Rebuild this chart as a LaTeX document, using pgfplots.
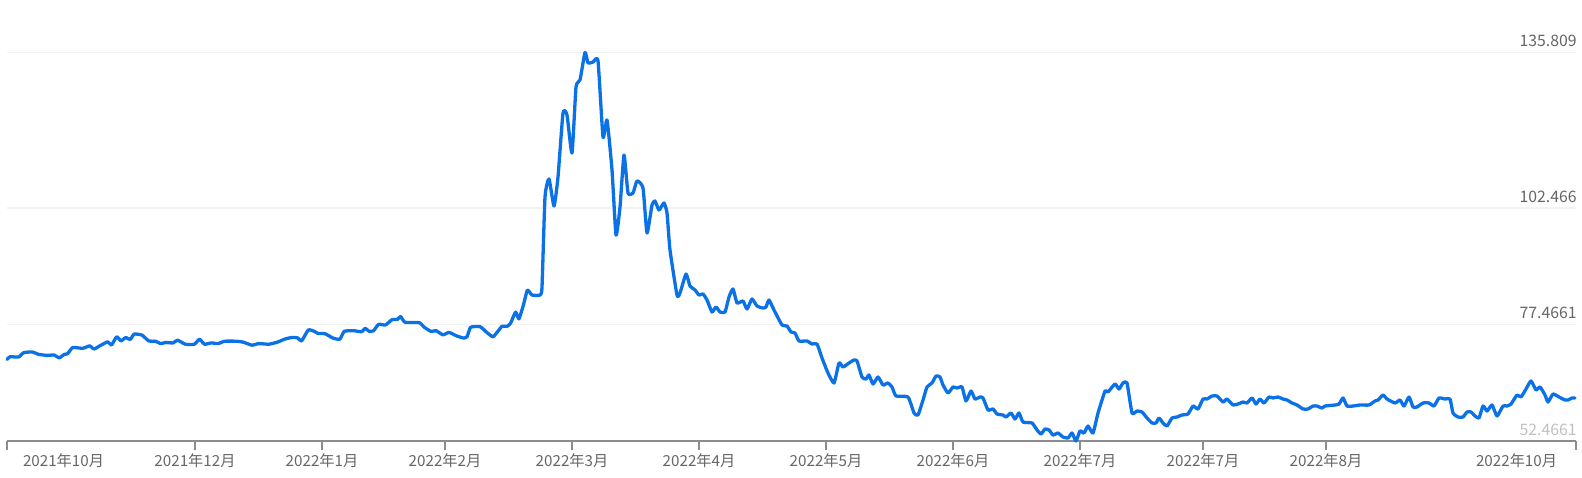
\documentclass[border=0pt]{standalone}
\usepackage{pgfplots}
\pgfplotsset{compat=1.18}
\usepackage{pgfplotstable}
\usepackage{fontspec}
\setmainfont{Noto Sans CJK SC}
\definecolor{lineblue}{RGB}{10,114,230}
\definecolor{labelgray}{RGB}{102,102,102}
\definecolor{lightlabel}{RGB}{192,192,192}
\definecolor{axisgray}{RGB}{140,140,140}
\definecolor{gridgray}{RGB}{243,243,243}
\pgfplotstableread{
x y
7 69.97
10.1 70.55
18.6 70.48
23.7 71.41
32.1 71.56
38.9 71.04
47.3 70.83
54.1 70.91
59.2 70.31
64.2 71.04
67.6 71.19
72.7 72.50
82.8 72.35
89.6 72.87
94 72.20
99.7 72.87
107.5 73.72
111.6 73.08
116.6 74.82
121 73.94
125.8 74.67
130.2 74.24
134.2 75.40
142 75.18
148.7 73.94
155.5 73.87
160.6 73.36
165.7 73.59
173.1 73.51
177.5 74.09
185.3 73.23
194.4 73.23
199.5 74.30
204.5 73.23
211.3 73.51
218 73.36
224.8 73.87
236.6 73.87
243.4 73.66
251.9 73.02
258.6 73.36
268.8 73.23
277.2 73.66
285.7 74.39
292.4 74.67
297.5 74.60
301.6 73.94
308.3 76.28
314.4 75.98
317.8 75.55
325.2 75.46
333 74.54
339.8 74.30
344.2 75.98
353.3 76.13
361.7 75.91
365.1 76.64
369.2 75.98
373.6 76.13
378.6 77.50
385.4 77.35
392.2 78.51
397.2 78.51
400.6 79.17
405 77.93
419.2 77.86
424.3 76.86
431 75.98
436.1 76.13
442.9 75.24
449 75.76
456.4 75.03
463.8 74.54
467.2 74.88
470.6 76.86
480.1 76.98
486.8 75.76
492.9 74.82
497 75.76
502 77.07
507.1 77.07
510.5 77.71
515.6 80.11
518.9 78.66
523.3 81.55
527.4 84.83
532 83.78
540 83.78
542 85.50
545 104.81
549 108.67
554 102.87
558 109.10
563 122.82
567 122.39
572 114.24
576 128.40
580 129.90
585 135.81
588 133.55
593 133.76
598 133.98
603 117.67
607 121.32
612 110.59
616 96.65
620 102.66
624 113.81
628 105.66
633 105.66
637 108.24
643 106.73
647 97.08
652 103.09
655 103.95
659 102.02
664 103.52
667 101.37
670 93.43
677 83.78
680 84.21
686 88.29
690 85.71
695 84.86
699 83.78
703 84.00
707 82.71
712 80.14
716 81.21
720 80.14
725 80.14
729 83.35
733 85.07
737 82.07
743 82.50
747 80.78
752 82.93
757 81.42
763 80.99
766 81.21
769 82.71
774 80.56
782 77.35
787 77.13
791 75.85
795 75.63
799 73.92
807 73.92
812 73.27
817 73.27
822 70.27
828 67.05
834 64.91
839 69.20
843 68.34
849 69.20
854 69.84
857 69.63
862 66.19
866 65.76
869 66.62
873 64.69
878 66.19
883 64.48
888 64.91
892 64.05
896 62.12
908 61.90
914 58.47
918 58.04
923 61.26
927 64.05
932 64.91
936 66.41
940 66.19
943 64.48
948 62.76
953 64.05
957 63.83
962 64.05
966 61.05
971 63.19
975 61.47
980 61.90
983 61.69
988 59.12
993 59.33
997 58.26
1003 58.04
1006 57.61
1011 58.47
1015 57.19
1019 58.47
1023 56.54
1032 56.33
1037 54.83
1041 53.97
1045 55.04
1049 54.83
1053 53.75
1058 54.18
1063 53.32
1068 53.11
1072 54.18
1076 52.47
1080 54.61
1084 54.18
1088 55.68
1093 54.18
1098 58.47
1105 63.19
1108 62.98
1115 64.69
1119 63.62
1123 64.91
1127 64.91
1132 58.47
1137 58.90
1142 58.69
1147 57.40
1152 56.33
1156 56.33
1159 57.40
1163 56.33
1167 55.68
1172 57.40
1177 57.61
1182 58.04
1188 58.26
1193 59.97
1198 59.33
1203 61.47
1207 61.47
1212 62.12
1217 62.12
1223 60.83
1227 61.47
1233 60.19
1238 60.40
1243 60.83
1247 60.62
1252 61.69
1256 60.40
1260 61.47
1264 60.62
1269 61.90
1273 61.69
1278 61.90
1283 61.47
1287 61.26
1292 60.62
1297 60.19
1303 59.33
1308 59.33
1313 59.97
1317 59.97
1322 59.54
1325 59.97
1335 60.19
1339 60.40
1343 61.69
1347 59.97
1353 59.97
1360 60.19
1369 60.19
1375 61.05
1378 61.26
1383 62.33
1387 61.47
1395 60.62
1400 61.26
1404 59.97
1409 61.90
1413 59.76
1417 59.76
1423 60.62
1429 60.62
1434 59.97
1439 61.69
1445 61.47
1450 61.47
1453 58.47
1458 57.61
1463 57.61
1467 58.69
1471 58.69
1475 57.83
1479 57.40
1483 59.97
1487 58.90
1492 60.19
1497 57.83
1503 59.97
1507 59.97
1511 60.40
1517 62.33
1521 61.90
1526 63.62
1531 65.34
1536 63.41
1540 64.05
1545 62.33
1548 60.83
1553 62.55
1559 61.90
1565 61.26
1568 61.26
1572 61.69
1575 61.69
}\series
\begin{document}
\begin{tikzpicture}
\useasboundingbox (0,0) rectangle (791pt,238.5pt);
\begin{axis}[
  at={(3.5pt,18pt)}, anchor=south west,
  scale only axis, width=784.5pt, height=218pt,
  xmin=7, xmax=1576, ymin=52.4661, ymax=145.99,
  clip=false,
  axis x line*=bottom, axis y line*=right,
  x axis line style={color=axisgray, line width=0.75pt},
  y axis line style={draw=none},
  tick align=outside, major tick length=4.5pt,
  xtick style={color=axisgray, line width=0.75pt},
  ytick style={draw=none},
  xtick={7,195,322,445,572,699,826,953,1080,1203,1326,1576},
  xticklabels={\makebox[0pt][l]{\hspace{8pt}2021年10月}, 2021年12月, 2022年1月, 2022年2月, 2022年3月, 2022年4月, 2022年5月, 2022年6月, 2022年7月, 2022年7月, 2022年8月, \makebox[0pt][r]{2022年10月\hspace{9.5pt}}},
  xticklabel style={anchor=base, inner sep=0pt, yshift=-8pt, font=\fontsize{7.6}{9}\selectfont},
  ytick={77.4661,102.466,135.809},
  yticklabels={77.4661,102.466,135.809},
  yticklabel pos=right,
  yticklabel style={anchor=south east, inner sep=0pt, xshift=-4pt, yshift=2.5pt, font=\fontsize{7.9}{9}\selectfont},
  extra y ticks={52.4661},
  extra y tick labels={52.4661},
  extra y tick style={grid=none, yticklabel style={text=lightlabel}},
  ymajorgrids, major grid style={color=gridgray, line width=0.75pt},
  tick label style={text=labelgray},
]
\addplot[color=lineblue, line width=1.65pt, line join=round, line cap=round, smooth, tension=0.3] table[x=x, y=y] {\series};
\end{axis}
\end{tikzpicture}
\end{document}
